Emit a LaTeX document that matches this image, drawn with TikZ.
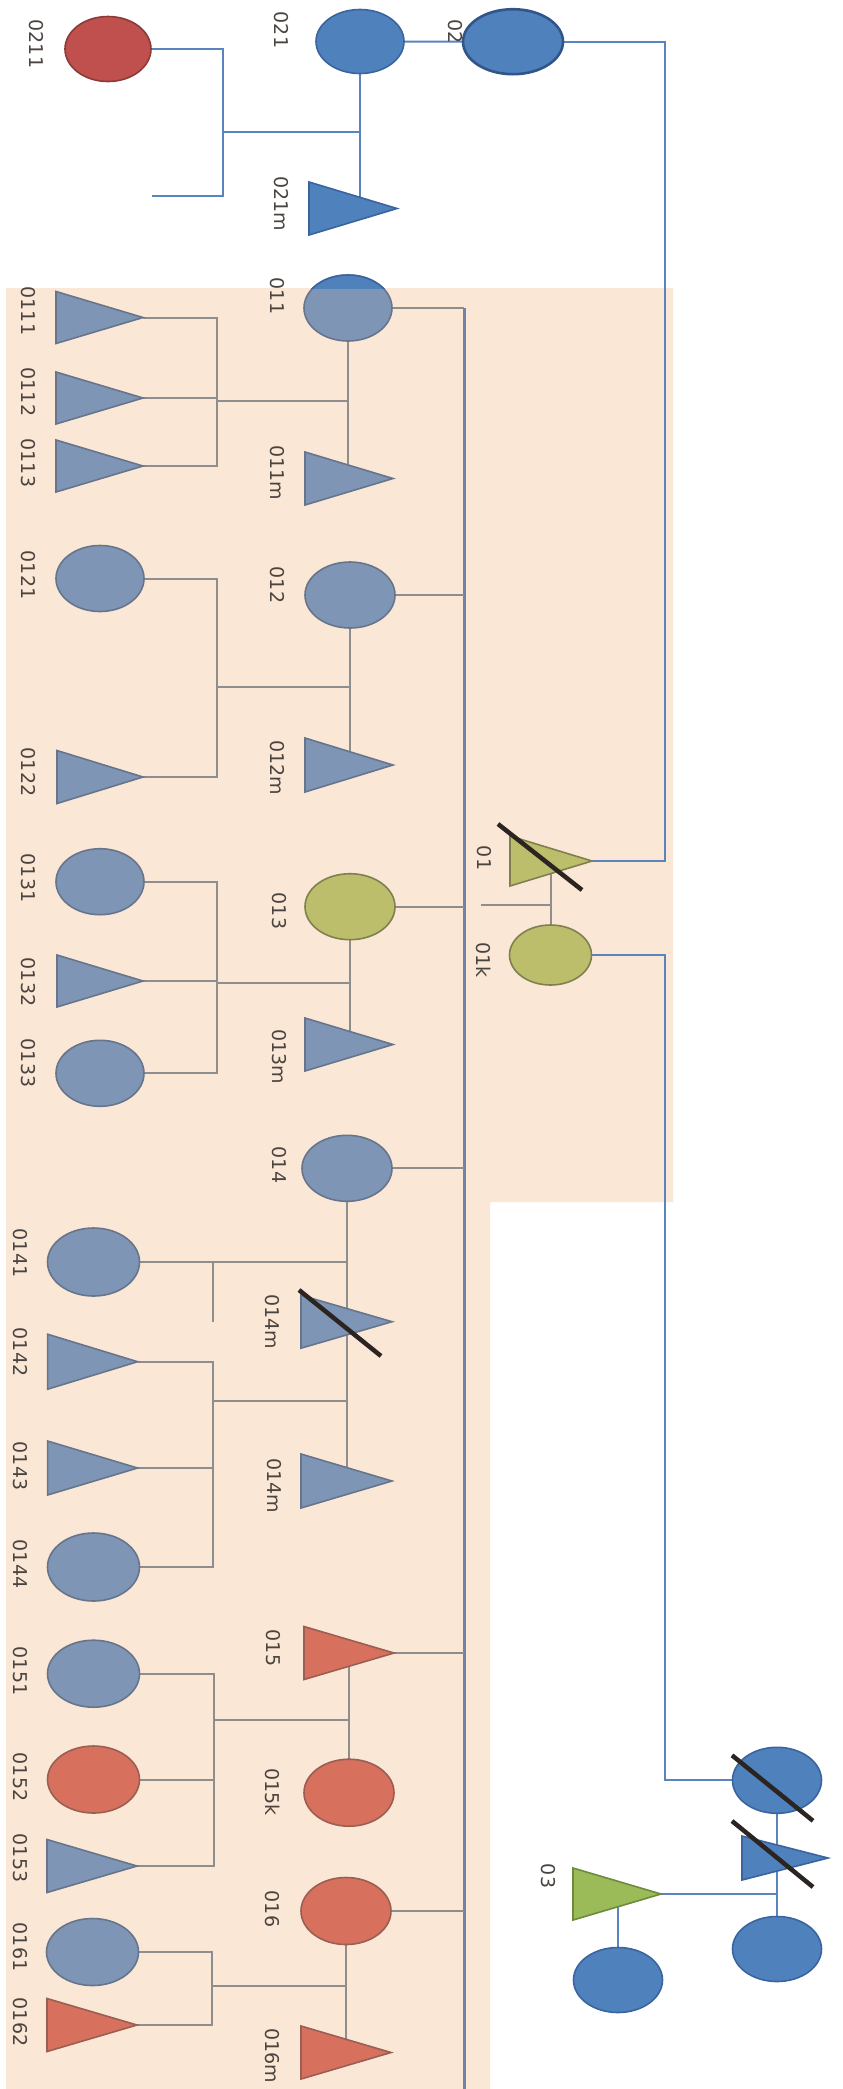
\documentclass[tikz,border=0pt]{standalone}
\usepackage{fontspec}
\setmainfont{DejaVu Sans}
\usetikzlibrary{shapes.geometric,calc}
\pgfdeclarelayer{bgzero}
\pgfdeclarelayer{bgone}
\pgfsetlayers{bgzero,bgone,main}
\definecolor{peachc}{HTML}{FBE7D6}
\definecolor{gbF}{HTML}{7F95B5}
\definecolor{gbD}{HTML}{66758C}
\definecolor{salF}{HTML}{D8705E}
\definecolor{salD}{HTML}{9A5E52}
\definecolor{olvF}{HTML}{BDBE6C}
\definecolor{olvD}{HTML}{7F8050}
\definecolor{bluF}{HTML}{4F81BD}
\definecolor{bluD}{HTML}{3A64A0}
\definecolor{redF}{HTML}{C0504D}
\definecolor{redD}{HTML}{8B3A38}
\definecolor{grnF}{HTML}{9BBB59}
\definecolor{grnD}{HTML}{6F8A3C}
\definecolor{glineC}{HTML}{8E8E8E}
\definecolor{sibC}{HTML}{6F84AA}
\definecolor{blineC}{HTML}{5A84BE}
\definecolor{slashC}{HTML}{2B2420}
\definecolor{txtC}{HTML}{4A4440}
\begin{document}
\begin{tikzpicture}[x=1pt,y=-1pt,
  circ/.style={ellipse, inner sep=0pt, outer sep=0pt, draw, line width=1.6pt},
  tri/.style={isosceles triangle, isosceles triangle stretches, shape border rotate=0,
              inner sep=0pt, outer sep=0pt, draw, line width=1.6pt, anchor=lower side},
  gbs/.style={fill=gbF, draw=gbD},
  sals/.style={fill=salF, draw=salD},
  olvs/.style={fill=olvF, draw=olvD},
  blus/.style={fill=bluF, draw=bluD},
  reds/.style={fill=redF, draw=redD},
  grns/.style={fill=grnF, draw=grnD},
  lab/.style={rotate=-90, text=txtC, inner sep=0pt, font=\fontsize{19}{22}\selectfont},
  gline/.style={draw=glineC, line width=2pt},
  bline/.style={draw=blineC, line width=2pt},
  sibline/.style={draw=sibC, line width=3pt},
  xslash/.style={draw=slashC, line width=4.5pt}
]
\useasboundingbox (0,0) rectangle (843,2089);
\begin{pgfonlayer}{bgzero}
\fill[white] (0,0) rectangle (843,2089);
\fill[peachc] (6,288) -- (673,288) -- (673,1202) -- (490,1202) -- (490,2089) -- (6,2089) -- cycle;
\end{pgfonlayer}

% ---------- labels ----------
\node[lab] (l0211) at (36,44) {0211};
\node[lab] (l021) at (281,30) {021};
\node[lab] (l02) at (455,32) {02};
\node[lab] (l021m) at (281,204) {021m};
\node[lab] (l011) at (277,296) {011};
\node[lab] (l0111) at (28,311) {0111};
\node[lab] (l0112) at (28,392) {0112};
\node[lab] (l0113) at (28,463) {0113};
\node[lab] (l011m) at (277,473) {011m};
\node[lab] (l0121) at (28,575) {0121};
\node[lab] (l012) at (277,585) {012};
\node[lab] (l0122) at (28,772) {0122};
\node[lab] (l012m) at (277,768) {012m};
\node[lab] (l01) at (484,858) {01};
\node[lab] (l01k) at (484,960) {01k};
\node[lab] (l0131) at (28,878) {0131};
\node[lab] (l013) at (279,911) {013};
\node[lab] (l0132) at (28,982) {0132};
\node[lab] (l0133) at (28,1063) {0133};
\node[lab] (l013m) at (279,1057) {013m};
\node[lab] (l014) at (279,1165) {014};
\node[lab] (l0141) at (20,1253) {0141};
\node[lab] (l014ma) at (272,1322) {014m};
\node[lab] (l0142) at (20,1352) {0142};
\node[lab] (l0143) at (20,1466) {0143};
\node[lab] (l014mb) at (274,1486) {014m};
\node[lab] (l0144) at (20,1564) {0144};
\node[lab] (l015) at (273,1648) {015};
\node[lab] (l0151) at (20,1671) {0151};
\node[lab] (l015k) at (273,1792) {015k};
\node[lab] (l0152) at (20,1777) {0152};
\node[lab] (l0153) at (20,1858) {0153};
\node[lab] (l016) at (272,1909) {016};
\node[lab] (l0161) at (20,1947) {0161};
\node[lab] (l0162) at (20,2022) {0162};
\node[lab] (l016m) at (272,2056) {016m};
\node[lab] (l03) at (548,1876) {03};

% ---------- circles ----------
\node[circ,reds,minimum width=86pt,minimum height=65pt] (n0211) at (108,49) {};
\node[circ,blus,minimum width=88pt,minimum height=64pt] (n021) at (360,41.5) {};
\node[circ,blus,draw=bluD!85!black,line width=2.6pt,minimum width=100pt,minimum height=65pt] (n02) at (513,41.7) {};
\node[circ,gbs,minimum width=88pt,minimum height=66pt] (n011) at (348,308) {};
\begin{scope}
\clip (290,250) rectangle (410,288.5);
\filldraw[fill=bluF,draw=bluD,line width=1.6pt] (348,308) ellipse [x radius=44, y radius=33];
\end{scope}
\node[circ,gbs,minimum width=90pt,minimum height=66pt] (n012) at (350,595) {};
\node[circ,gbs,minimum width=88pt,minimum height=66pt] (n0121) at (100,578.5) {};
\node[circ,olvs,minimum width=90pt,minimum height=66pt] (n013) at (350,906.7) {};
\node[circ,olvs,minimum width=82pt,minimum height=60pt] (n01k) at (550.5,955) {};
\node[circ,gbs,minimum width=88pt,minimum height=66pt] (n0131) at (100,881.7) {};
\node[circ,gbs,minimum width=88pt,minimum height=66pt] (n0133) at (100,1073.3) {};
\node[circ,gbs,minimum width=90pt,minimum height=66pt] (n014) at (347,1168.3) {};
\node[circ,gbs,minimum width=92pt,minimum height=68pt] (n0141) at (93.5,1262) {};
\node[circ,gbs,minimum width=92pt,minimum height=68pt] (n0144) at (93.5,1567) {};
\node[circ,sals,minimum width=90pt,minimum height=67pt] (n015k) at (349,1792.7) {};
\node[circ,gbs,minimum width=92pt,minimum height=67pt] (n0151) at (93.5,1673.7) {};
\node[circ,sals,minimum width=92pt,minimum height=67pt] (n0152) at (93.5,1779.5) {};
\node[circ,sals,minimum width=90pt,minimum height=67pt] (n016) at (346,1911) {};
\node[circ,gbs,minimum width=92pt,minimum height=67pt] (n0161) at (92.5,1952) {};
\node[circ,blus,minimum width=89pt,minimum height=66pt] (ncc) at (777,1780.3) {};
\node[circ,blus,minimum width=89pt,minimum height=65pt] (nl) at (618,1980) {};
\node[circ,blus,minimum width=89pt,minimum height=65pt] (nr) at (777,1949) {};

% ---------- triangles (minimum height = length towards apex, minimum width = base) ----------
\node[tri,blus,minimum height=88pt,minimum width=53pt] (n021m) at (309,208.5) {};
\node[tri,gbs,minimum height=87pt,minimum width=52pt] (n0111) at (56,317.5) {};
\node[tri,gbs,minimum height=87pt,minimum width=52pt] (n0112) at (56,398) {};
\node[tri,gbs,minimum height=87pt,minimum width=52pt] (n0113) at (56,466) {};
\node[tri,gbs,minimum height=88pt,minimum width=53pt] (n011m) at (305,478.5) {};
\node[tri,gbs,minimum height=88pt,minimum width=54pt] (n012m) at (305,765) {};
\node[tri,gbs,minimum height=86pt,minimum width=53pt] (n0122) at (57,777) {};
\node[tri,olvs,minimum height=82pt,minimum width=50pt] (n01) at (510,861) {};
\node[tri,gbs,minimum height=86pt,minimum width=52pt] (n0132) at (57,981) {};
\node[tri,gbs,minimum height=88pt,minimum width=53pt] (n013m) at (305,1044.5) {};
\node[tri,gbs,minimum height=91pt,minimum width=53pt] (n014ma) at (301,1321.7) {};
\node[tri,gbs,minimum height=91pt,minimum width=54pt] (n014mb) at (301,1481) {};
\node[tri,gbs,minimum height=90pt,minimum width=55pt] (n0142) at (47.6,1361.7) {};
\node[tri,gbs,minimum height=90pt,minimum width=54pt] (n0143) at (47.6,1468) {};
\node[tri,sals,minimum height=90pt,minimum width=53pt] (n015) at (304,1653) {};
\node[tri,gbs,minimum height=90pt,minimum width=53pt] (n0153) at (47,1866) {};
\node[tri,sals,minimum height=90pt,minimum width=53pt] (n0162) at (47,2025) {};
\node[tri,sals,minimum height=90pt,minimum width=53pt] (n016m) at (301,2052.5) {};
\node[tri,grns,minimum height=88pt,minimum width=52pt] (n03) at (573,1894) {};
\node[tri,blus,minimum height=86pt,minimum width=44pt] (nct) at (742,1858) {};

% ---------- slashes ----------
\draw[xslash] ($(n01.lower side)+(-12,-37)$) -- ($(n01.lower side)+(72,29)$);
\draw[xslash] ($(n014ma.lower side)+(-2,-31.7)$) -- ($(n014ma.lower side)+(80,34.3)$);
\draw[xslash] ($(ncc.center)+(-45,-25)$) -- ($(ncc.center)+(36,40.5)$);
\draw[xslash] ($(nct.lower side)+(-10,-37)$) -- ($(nct.lower side)+(71,29)$);

% ---------- connectors ----------
\coordinate (b021) at (222.7,131.7);
\coordinate (e021) at (152,196);
\coordinate (vtop) at (665,861);
\coordinate (vbot) at (665,955);
\coordinate (sibtop) at (464,308);
\coordinate (sibbot) at (464,2089);
\coordinate (t1a) at (481,905);
\coordinate (b011) at (217,400.7);
\coordinate (b012) at (217,686.7);
\coordinate (b013) at (217,982.7);
\coordinate (st) at (213,1321.7);
\coordinate (b014) at (213,1400.7);
\coordinate (b015) at (213.5,1720);
\coordinate (b016) at (212.3,1985.7);

\begin{pgfonlayer}{bgone}
% top family
\draw[bline] (n0211.east) -| (e021 -| b021) -- (e021);
\draw[bline] (b021) -- (b021 -| n021.south);
\draw[bline] (n021.south) -- (n021.south |- n021m.center);
\draw[bline] (n021) -- (n02);
\draw[bline] (n02.east) -| (vtop) -- (n01.apex);
\draw[bline] (n01k.east) -- (vbot) |- (ncc.west);
% O1 couple
\draw[gline] (n01k.north) -- (n01k.north |- n01.lower side);
\draw[gline] (t1a) -- (t1a -| n01k.north);
% sibship line
\draw[sibline] (sibtop) -- (sibbot);
\draw[gline] (n011.east) -- (n011.east -| sibtop);
\draw[gline] (n012.east) -- (n012.east -| sibtop);
\draw[gline] (n013.east) -- (n013.east -| sibtop);
\draw[gline] (n014.east) -- (n014.east -| sibtop);
\draw[gline] (n015.apex) -- (n015.apex -| sibtop);
\draw[gline] (n016.east) -- (n016.east -| sibtop);
% 011
\draw[gline] (n011.south) -- (n011.south |- n011m.center);
\draw[gline] (b011) -- (b011 -| n011.south);
\draw[gline] (n0111.apex) -| (b011) |- (n0113.apex);
\draw[gline] (n0112.apex) -- (n0112.apex -| b011);
% 012
\draw[gline] (n012.south) -- (n012.south |- n012m.center);
\draw[gline] (b012) -- (b012 -| n012.south);
\draw[gline] (n0121.east) -| (b012) |- (n0122.apex);
% 013
\draw[gline] (n013.south) -- (n013.south |- n013m.center);
\draw[gline] (b013) -- (b013 -| n013.south);
\draw[gline] (n0131.east) -| (b013) |- (n0133.east);
\draw[gline] (n0132.apex) -- (n0132.apex -| b013);
% 014
\draw[gline] (n014.south) -- (n014.south |- n014mb.center);
\draw[gline] (n0141.east) -- (n0141.east -| n014.south);
\draw[gline] (st) -- (st |- n0141.east);
\draw[gline] (b014) -- (b014 -| n014.south);
\draw[gline] (n0142.apex) -| (b014) |- (n0144.east);
\draw[gline] (n0143.apex) -- (n0143.apex -| b014);
% 015
\draw[gline] (n015k.north) -- (n015k.north |- n015.lower side);
\draw[gline] (b015) -- (b015 -| n015k.north);
\draw[gline] (n0151.east) -| (b015) |- (n0153.apex);
\draw[gline] (n0152.east) -- (n0152.east -| b015);
% 016
\draw[gline] (n016.south) -- (n016.south |- n016m.center);
\draw[gline] (b016) -- (b016 -| n016.south);
\draw[gline] (n0161.east) -| (b016) |- (n0162.apex);
% O3 group
\draw[bline] (ncc.south) -- (nr.north);
\draw[bline] (n03.apex) -- (n03.apex -| ncc.south);
\draw[bline] (nl.north) -- (nl.north |- n03.lower side);
\end{pgfonlayer}
\end{tikzpicture}
\end{document}
